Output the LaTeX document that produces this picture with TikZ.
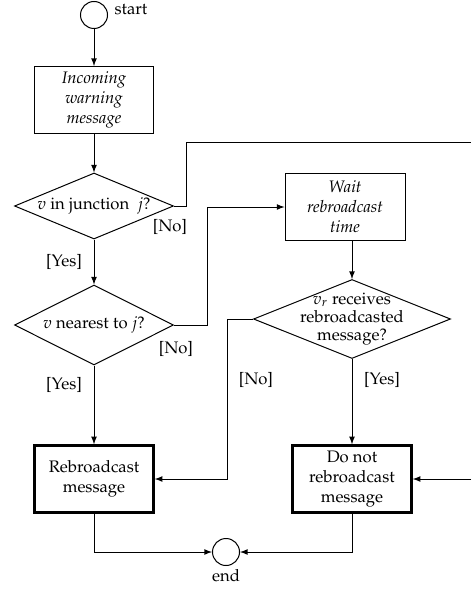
\documentclass[tikz,border=0pt]{standalone}
\usepackage[T1]{fontenc}
\usepackage{amsmath}
\usepackage{mathpazo}
\usepackage{tikz}
\usetikzlibrary{shapes.geometric}

\begin{document}
\begin{tikzpicture}[x=0.6pt,y=-0.6pt,>=latex,line width=0.6pt,
  terminal/.style={draw,circle,minimum size=16.2pt,inner sep=0pt},
  process/.style={draw,align=center,minimum width=71.4pt,minimum height=40.2pt,inner sep=2pt},
  action/.style={process,line width=1.5pt},
  decision/.style={draw,diamond,inner sep=0pt}]

\useasboundingbox (0,0) rectangle (471,590);

% Draw start and end
\node[terminal] (start) at (94,15) {};
\node (startlbl) at (131,10) {start};
\node[terminal] (end) at (226,552) {};
\node (endlbl) at (226,576) {end};

% Draw boxes
\node[process] (incoming) at (94,100) {\textit{Incoming}\\ \textit{warning}\\ \textit{message}};
\node[process,minimum width=72pt] (wait) at (345,207) {\textit{Wait}\\ \textit{rebroadcast}\\ \textit{time}};
\node[action] (rebroad) at (94,479) {Rebroadcast\\ message};
\node[action] (donot) at (352,479) {Do not\\ rebroadcast\\ message};

% Draw decisions
\node[decision,minimum width=95.4pt,minimum height=39.6pt,
  label={center:$v$ in junction\ \ $j$?}] (d1) at (94,206) {};
\node[decision,minimum width=95.4pt,minimum height=48pt,
  label={center:$v$ nearest to $j$?}] (d2) at (94,325) {};
\node[decision,minimum width=118.2pt,minimum height=47.4pt,
  label={[align=center]center:$v_r$ receives\\[-1pt] rebroadcasted\\[-1pt] message?}] (d3) at (352,319) {};

% Draw branch labels
\node (no1) at (170,227) {[No]};
\node (yes1) at (64,262) {[Yes]};
\node (no2) at (176,349) {[No]};
\node (yes2) at (64,385) {[Yes]};
\node (no3) at (256,380) {[No]};
\node (yes3) at (382,380) {[Yes]};

% Turning points
\coordinate (turn1) at (186,142);
\coordinate (exit1) at (471,142);
\coordinate (turn2) at (207,207);
\coordinate (turn3) at (227,479);
\coordinate (entry1) at (471,479);

% Draw connectors
\draw[->] (start) -- (incoming);
\draw[->] (incoming) -- (d1);
\draw (d1.east) -| (turn1) -- (exit1);
\draw[->] (d1) -- (d2);
\draw[->] (d2.east) -| (turn2) -- (wait.west |- turn2);
\draw[->] (d2) -- (rebroad);
\draw[->] (wait.south -| d3.north) -- (d3.north);
\draw[->] (d3.west) -| (turn3) -- (rebroad.east);
\draw[->] (d3) -- (donot);
\draw[->] (entry1) -- (donot.east);
\draw[->] (rebroad.south) |- (end.west);
\draw[->] (donot.south) |- (end.east);

\end{tikzpicture}
\end{document}
